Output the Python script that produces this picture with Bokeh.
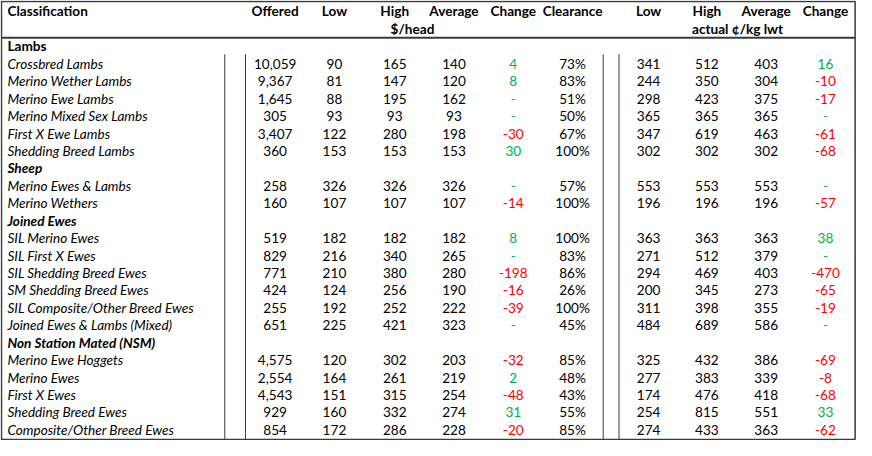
from bokeh.plotting import figure
from bokeh.models import Range1d
from bokeh.core.properties import value
from bokeh.embed import file_html
from bokeh.resources import INLINE

# ---------------- data ----------------
sections = ["Lambs", "Sheep", "Joined Ewes", "Non Station Mated (NSM)"]
section_header_rows = [0, 7, 10, 17]

categories = [
    "Crossbred Lambs", "Merino Wether Lambs", "Merino Ewe Lambs", "Merino Mixed Sex Lambs",
    "First X Ewe Lambs", "Shedding Breed Lambs",
    "Merino Ewes & Lambs", "Merino Wethers",
    "SIL Merino Ewes", "SIL First X Ewes", "SIL Shedding Breed Ewes", "SM Shedding Breed Ewes",
    "SIL Composite/Other Breed Ewes", "Joined Ewes & Lambs (Mixed)",
    "Merino Ewe Hoggets", "Merino Ewes", "First X Ewes", "Shedding Breed Ewes",
    "Composite/Other Breed Ewes",
]
offered = [10059, 9367, 1645, 305, 3407, 360, 258, 160, 519, 829, 771, 424, 255, 651,
           4575, 2554, 4543, 929, 854]
low_head = [90, 81, 88, 93, 122, 153, 326, 107, 182, 216, 210, 124, 192, 225, 120, 164, 151, 160, 172]
high_head = [165, 147, 195, 93, 280, 153, 326, 107, 182, 340, 380, 256, 252, 421, 302, 261, 315, 332, 286]
avg_head = [140, 120, 162, 93, 198, 153, 326, 107, 182, 265, 280, 190, 222, 323, 203, 219, 254, 274, 228]
change_head = [4, 8, 0, 0, -30, 30, 0, -14, 8, 0, -198, -16, -39, 0, -32, 2, -48, 31, -20]
clearance = [73, 83, 51, 50, 67, 100, 57, 100, 100, 83, 86, 26, 100, 45, 85, 48, 43, 55, 85]
low_kg = [341, 244, 298, 365, 347, 302, 553, 196, 363, 271, 294, 200, 311, 484, 325, 277, 174, 254, 274]
high_kg = [512, 350, 423, 365, 619, 302, 553, 196, 363, 512, 469, 345, 398, 689, 432, 383, 476, 815, 433]
avg_kg = [403, 304, 375, 365, 463, 302, 553, 196, 363, 379, 403, 273, 355, 586, 386, 339, 418, 551, 363]
change_kg = [16, -10, -17, 0, -61, -68, 0, -57, 38, 0, -470, -65, -19, 0, -69, -8, -68, 33, -62]

headers = ["Offered", "Low", "High", "Average", "Change", "Clearance", "Low", "High", "Average", "Change"]
subheaders = ["$/head", "actual ¢/kg lwt"]

# ---------------- layout (reference pixel coords) ----------------
W, H = 856, 440
p = figure(width=W, height=H, output_backend="svg", toolbar_location=None,
           x_range=Range1d(2, 868.4), y_range=Range1d(453, 3),
           min_border=0, outline_line_color=None)
p.xaxis.visible = False
p.yaxis.visible = False
p.grid.visible = False
p.background_fill_color = "white"
p.border_fill_color = "white"

FONT = value("Lato")
FS = "13.6px"
GREEN = "#00B050"
RED = "#FF0000"
BLACK = "#000000"

col_x = [280, 340, 401, 461, 521, 581, 658, 717, 777, 837]
label_x = 9
row_y0, row_dy = 50, 17.82
n_rows = 23

# header texts
p.text(x=[label_x], y=[14], text=["Classification"], text_font=FONT, text_font_size=FS,
       text_font_style="bold", text_align="left", text_baseline="middle", text_color=BLACK)
p.text(x=col_x, y=[14] * len(col_x), text=headers, text_font=FONT, text_font_size=FS,
       text_font_style="bold", text_align="center", text_baseline="middle", text_color=BLACK)
p.text(x=[419, 748], y=[32, 32], text=subheaders, text_font=FONT, text_font_size=FS,
       text_font_style="bold", text_align="center", text_baseline="middle", text_color=BLACK)

# rows
data_rows = [i for i in range(n_rows) if i not in section_header_rows]
ys_sec = [row_y0 + r * row_dy for r in section_header_rows]
sec_styles = ["bold", "bold italic", "bold italic", "bold italic"]
for s, y, st in zip(sections, ys_sec, sec_styles):
    p.text(x=[label_x], y=[y], text=[s], text_font=FONT, text_font_size=FS, text_font_style=st,
           text_align="left", text_baseline="middle", text_color=BLACK)

ys = [row_y0 + r * row_dy for r in data_rows]
p.text(x=[label_x] * len(ys), y=ys, text=categories, text_font=FONT, text_font_size=FS,
       text_font_style="italic", text_align="left", text_baseline="middle", text_color=BLACK)


def put(cx, vals, fmt, colored=False):
    txt = [fmt(v) for v in vals]
    if colored:
        colors = [GREEN if v >= 0 else RED for v in vals]
    else:
        colors = [BLACK] * len(vals)
    p.text(x=[cx] * len(ys), y=ys, text=txt, text_font=FONT, text_font_size=FS,
           text_align="center", text_baseline="middle", text_color=colors)


num = lambda v: f"{v:,}"
chg = lambda v: "-" if v == 0 else str(v)
pct = lambda v: f"{v}%"

put(col_x[0], offered, num)
put(col_x[1], low_head, num)
put(col_x[2], high_head, num)
put(col_x[3], avg_head, num)
put(col_x[4], change_head, chg, colored=True)
put(col_x[5], clearance, pct)
put(col_x[6], low_kg, num)
put(col_x[7], high_kg, num)
put(col_x[8], avg_kg, num)
put(col_x[9], change_kg, chg, colored=True)

# rules
LC = "#3a3a3a"
for vx in [229, 250, 612, 628]:
    p.segment(x0=[vx], y0=[58], x1=[vx], y1=[452], line_color=LC, line_width=1)
p.segment(x0=[3], y0=[41], x1=[867], y1=[41], line_color=LC, line_width=2)
p.quad(left=[3], right=[867], top=[4], bottom=[452], fill_color=None, line_color=LC, line_width=1.5)

open("out.html", "w").write(file_html(p, INLINE))
